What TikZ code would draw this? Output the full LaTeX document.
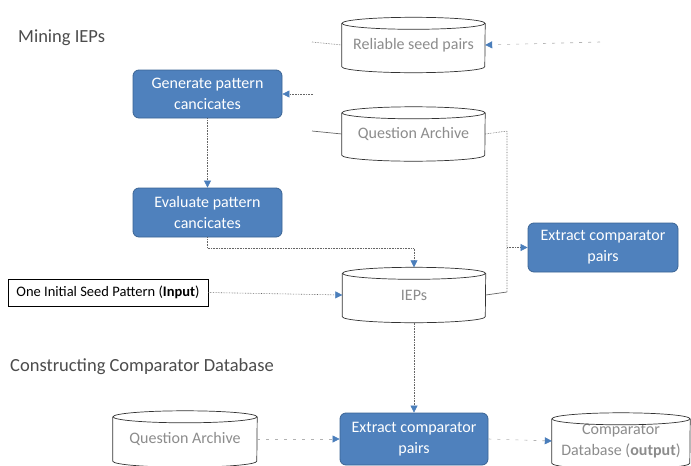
\documentclass[tikz,border=0pt]{standalone}
\usepackage{fontspec}
\setmainfont{Carlito}
\usetikzlibrary{arrows.meta,calc}
\definecolor{boxblue}{HTML}{4F81BD}
\definecolor{boxedge}{HTML}{3B6494}
\definecolor{tipblue}{HTML}{4A7EBB}
\definecolor{cyltxt}{HTML}{8C8C8C}
\newcommand\mycyl[6]{%
  \node[cylnode, minimum width=#4, minimum height=#5] (#1) at (#2,#3) {#6};
  \draw[cylline] ([yshift=-6pt]#1.north) ellipse [x radius=#4/2, y radius=6pt];
  \draw[cylline] ([yshift=-6pt]#1.north west) -- ([yshift=6pt]#1.south west)
     arc[start angle=180, end angle=360, x radius=#4/2, y radius=6pt]
     -- ([yshift=-6pt]#1.north east);
}
\tikzset{
  bluebox/.style={draw=boxedge, line width=0.8pt, fill=boxblue, rounded corners=6pt,
    text=white, align=center, font=\fontsize{16}{21}\selectfont, inner sep=0pt},
  cylnode/.style={inner sep=0pt, align=center, text=cyltxt, yshift=-3pt,
    font=\fontsize{16}{21}\selectfont},
  cylline/.style={draw=black!80, line width=0.7pt},
  inbox/.style={draw=black, line width=0.8pt, align=center, inner sep=0pt,
    font=\fontsize{14.5}{17}\selectfont},
  heading/.style={anchor=west, inner sep=0pt, text=black!70, font=\fontsize{18.5}{22}\selectfont},
  conn/.style={draw=black!60, line width=0.6pt, densely dotted},
  faint/.style={draw=black!30, line width=0.6pt, dash pattern=on 3pt off 6pt},
  solidc/.style={draw=black!60, line width=0.7pt},
  bluetip/.style={-{Triangle[length=7pt,width=7pt,color=tipblue]}}
}
\begin{document}
\begin{tikzpicture}[x=1pt,y=-1pt]
\useasboundingbox[fill=white] (0,0) rectangle (691,466);

% headings
\node[heading] (h1) at (18,38) {Mining IEPs};
\node[heading] (h2) at (10,367) {Constructing Comparator Database};

% cylinders
\mycyl{rsp}{413.5}{42}{143pt}{55pt}{Reliable seed pairs}
\mycyl{qa}{413.5}{131}{143pt}{54pt}{Question Archive}
\mycyl{ieps}{414}{292}{143pt}{55pt}{IEPs}
\mycyl{qab}{185}{436}{144pt}{56pt}{Question Archive}
\mycyl{cdb}{621}{438}{138pt}{56pt}{Comparator\\Database (\textbf{output})}

% blue boxes
\node[bluebox, minimum width=149pt, minimum height=48pt] (gen) at (207.5,94) {Generate pattern\\cancicates};
\node[bluebox, minimum width=149pt, minimum height=49pt] (eval) at (207.5,212.5) {Evaluate pattern\\cancicates};
\node[bluebox, minimum width=150pt, minimum height=49pt] (ex1) at (603,247.5) {Extract comparator\\pairs};
\node[bluebox, minimum width=148pt, minimum height=52pt] (ex2) at (414,439) {Extract comparator\\pairs};

% input box
\node[inbox, minimum width=200pt, minimum height=27pt] (inp) at (108,292.5) {One Initial Seed Pattern (\textbf{Input})};

% free ends
\coordinate (a1) at (312,42);
\coordinate (a2) at (600,42);
\coordinate (a3) at (313,94);
\coordinate (a4) at (312,131);
\coordinate (jt) at (507,131);
\coordinate (jb) at (507,292);

% connectors
\draw[conn] (a1) -- (rsp.west);
\draw[faint, bluetip] (a2) -- (rsp.east);
\draw[conn, bluetip] (a3) -- (gen.east);
\draw[solidc] (a4) -- (qa.west);
\draw[conn, bluetip] (gen.south) -- (eval.north);
\draw[conn, bluetip] (eval.south) -- ++(0,11) -| (ieps.north);
\draw[conn] (qa.east) -- (jt) -- (jb);
\draw[solidc] (jb) -- (ieps.east);
\draw[conn, bluetip] (jt |- ex1.west) -- (ex1.west);
\draw[conn, bluetip] (inp.east) -- (ieps.west);
\draw[conn, bluetip] (ieps.south) -- (ex2.north);
\draw[faint, bluetip] (qab.east) -- (ex2.west);
\draw[faint, bluetip] (ex2.east) -- (cdb.west);
\end{tikzpicture}
\end{document}
